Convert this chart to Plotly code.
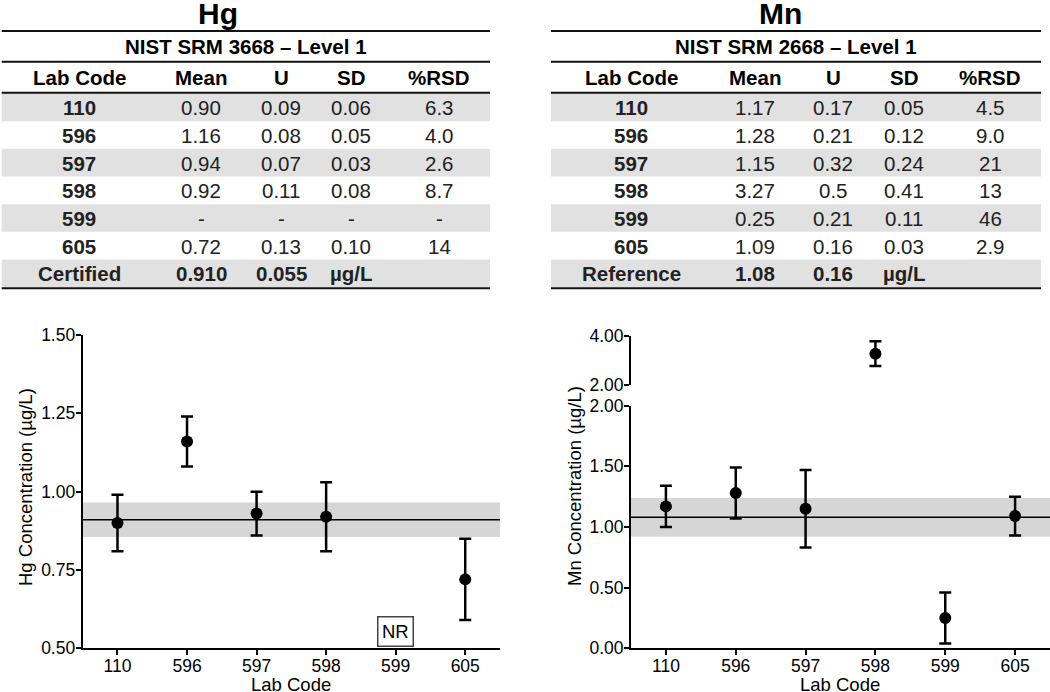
"""Hg / Mn proficiency tables with lab-code error bar plots."""

import plotly.graph_objects as go

W, H = 1050, 692
FONT = "Liberation Sans, Arial, sans-serif"

# ---- data ----
lab_codes = ["110", "596", "597", "598", "599", "605"]
table_cols = ["Lab Code", "Mean", "U", "SD", "%RSD"]

hg_mean_txt = ["0.90", "1.16", "0.94", "0.92", "-", "0.72"]
hg_u_txt = ["0.09", "0.08", "0.07", "0.11", "-", "0.13"]
hg_sd_txt = ["0.06", "0.05", "0.03", "0.08", "-", "0.10"]
hg_rsd_txt = ["6.3", "4.0", "2.6", "8.7", "-", "14"]
hg_footer = ["Certified", "0.910", "0.055", "µg/L", ""]

mn_mean_txt = ["1.17", "1.28", "1.15", "3.27", "0.25", "1.09"]
mn_u_txt = ["0.17", "0.21", "0.32", "0.5", "0.21", "0.16"]
mn_sd_txt = ["0.05", "0.12", "0.24", "0.41", "0.11", "0.03"]
mn_rsd_txt = ["4.5", "9.0", "21", "13", "46", "2.9"]
mn_footer = ["Reference", "1.08", "0.16", "µg/L", ""]

# values as plotted
hg_mean = [0.90, 1.16, 0.93, 0.92, None, 0.72]
hg_u = [0.09, 0.08, 0.07, 0.11, None, 0.13]
hg_ref, hg_ref_u = 0.910, 0.055
hg_not_reported = "599"

mn_mean = [1.17, 1.28, 1.15, 3.27, 0.25, 1.09]
mn_u = [0.17, 0.21, 0.32, 0.5, 0.21, 0.16]
mn_ref, mn_ref_u = 1.08, 0.16
mn_break = 2.0


def px(x):
    return x / W


def py(y):
    return 1 - y / H


def note(fig, text, x, y, size=20, color="black", **kw):
    fig.add_annotation(text=text, x=px(x), y=py(y), xref="paper", yref="paper",
                       xanchor="center", yanchor="middle", showarrow=False,
                       font=dict(size=size, family=FONT, color=color), **kw)


def add_table(fig, x0, x1, col_x, title, title_x, subtitle, cols, footer):
    """Draw a ruled table with shapes and annotations (pixel layout)."""
    row0, pitch = 107.3, 27.67
    # shaded rows
    for i in range(0, 7, 2):
        fig.add_shape(type="rect", xref="paper", yref="paper",
                      x0=px(x0), x1=px(x1),
                      y0=py(row0 - pitch / 2 + pitch * i),
                      y1=py(row0 + pitch / 2 + pitch * i),
                      fillcolor="#e1e1e1", line_width=0, layer="below")
    # rules
    for y in [31, 61.7, 92.7, 288.3]:
        fig.add_shape(type="line", xref="paper", yref="paper",
                      x0=px(x0), x1=px(x1), y0=py(y), y1=py(y),
                      line=dict(color="#111111", width=2))
    note(fig, f"<b>{title}</b>", title_x, 14, size=30)
    note(fig, f"<b>{subtitle}</b>", (x0 + x1) / 2, 46.5, size=20.5)
    for cx, name in zip(col_x, table_cols):
        note(fig, f"<b>{name}</b>", cx, 77.5, size=20.5)
    body = list(zip(*cols))
    for i, row in enumerate(body):
        for j, (cx, val) in enumerate(zip(col_x, row)):
            txt = f"<b>{val}</b>" if j == 0 else val
            note(fig, txt, cx, row0 + pitch * i + 0.5, size=20.5, color="#222222")
    for cx, val in zip(col_x, footer):
        if val:
            note(fig, f"<b>{val}</b>", cx, row0 + pitch * 6 + 0.5, size=20.5,
                 color="#222222")


def points(x, y, err, xa, ya):
    return go.Scatter(
        x=x, y=y, mode="markers", xaxis=xa, yaxis=ya, showlegend=False,
        marker=dict(color="black", size=12),
        error_y=dict(type="data", array=err, color="black", thickness=2.5, width=6),
        cliponaxis=False,
    )


fig = go.Figure()

# Hg
fig.add_trace(points(lab_codes, hg_mean, hg_u, "x", "y"))

# Mn, split at the axis break
low_y = [v if v is not None and v <= mn_break else None for v in mn_mean]
low_e = [e if v is not None and v <= mn_break else None for v, e in zip(mn_mean, mn_u)]
high_y = [v if v is not None and v > mn_break else None for v in mn_mean]
high_e = [e if v is not None and v > mn_break else None for v, e in zip(mn_mean, mn_u)]
fig.add_trace(points(lab_codes, low_y, low_e, "x2", "y2"))
fig.add_trace(points(lab_codes, high_y, high_e, "x2", "y3"))

# reference bands + lines
for xr, yr, ref, u in [("x domain", "y", hg_ref, hg_ref_u),
                       ("x2 domain", "y2", mn_ref, mn_ref_u)]:
    fig.add_shape(type="rect", xref=xr, yref=yr, x0=0, x1=1,
                  y0=ref - u, y1=ref + u, fillcolor="#d6d6d6",
                  line_width=0, layer="below")
    fig.add_shape(type="line", xref=xr, yref=yr, x0=0, x1=1,
                  y0=ref, y1=ref, line=dict(color="black", width=1.5))

# "not reported" marker for the missing Hg lab
fig.add_annotation(text="NR", x=lab_codes.index(hg_not_reported), y=0.554,
                   xref="x", yref="y", xanchor="center", yanchor="middle",
                   showarrow=False, bordercolor="#444444", borderwidth=1.5,
                   borderpad=3.5, font=dict(size=18.5, family=FONT, color="black"))

add_table(fig, 1.7, 490, [79, 201, 281, 351, 439], "Hg", 218,
          "NIST SRM 3668 – Level 1",
          [lab_codes, hg_mean_txt, hg_u_txt, hg_sd_txt, hg_rsd_txt], hg_footer)
add_table(fig, 551, 1041, [631, 755, 833, 904, 990], "Mn", 780,
          "NIST SRM 2668 – Level 1",
          [lab_codes, mn_mean_txt, mn_u_txt, mn_sd_txt, mn_rsd_txt], mn_footer)

# axis titles
note(fig, "Hg Concentration (µg/L)", 25, 487, size=18.5, textangle=-90)
note(fig, "Mn Concentration (µg/L)", 575, 486, size=18.5, textangle=-90)
note(fig, "Lab Code", 291, 684, size=18.5)
note(fig, "Lab Code", 840, 684, size=18.5)

axis_common = dict(
    showline=True, linecolor="black", linewidth=2, ticks="outside",
    ticklen=5, tickwidth=2, tickcolor="black", showgrid=False, zeroline=False,
    tickfont=dict(size=17.5, family=FONT, color="black"), mirror=False,
)
x_common = dict(
    axis_common, type="category", categoryorder="array",
    categoryarray=lab_codes, range=[-0.5, 5.5], ticklabelstandoff=-4,
)
y_common = dict(axis_common, ticklabelstandoff=-3, tickformat=".2f")

fig.update_layout(
    width=W, height=H,
    margin=dict(l=0, r=0, t=0, b=0, autoexpand=False),
    paper_bgcolor="white", plot_bgcolor="white",
    showlegend=False,
    font=dict(family=FONT, color="black"),
    xaxis=dict(x_common, domain=[px(82.7), px(500)], anchor="y"),
    yaxis=dict(y_common, domain=[py(648.3), py(335)], anchor="x",
               range=[0.5, 1.5], tickvals=[0.5, 0.75, 1.0, 1.25, 1.5]),
    xaxis2=dict(x_common, domain=[px(631), px(1050)], anchor="y2"),
    yaxis2=dict(y_common, domain=[py(648.3), py(405.7)], anchor="x2",
                range=[0, 2], tickvals=[0, 0.5, 1.0, 1.5, 2.0]),
    yaxis3=dict(y_common, domain=[py(385), py(335.7)], anchor="x2",
                range=[2, 4], tickvals=[2, 4]),
)

# drop the default page margin so the figure sits at the window's corner
fig.write_html(
    "out.html",
    config={"displayModeBar": False},
    post_script="document.body.style.margin='0';document.body.style.overflow='hidden';",
)
